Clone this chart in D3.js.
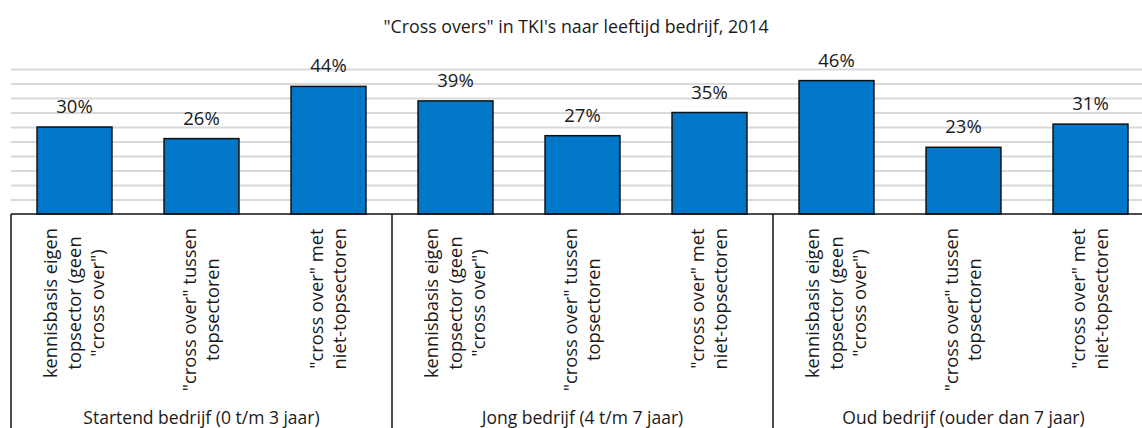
<!DOCTYPE html>
<html>
<head>
<meta charset="utf-8">
<script src="https://cdn.jsdelivr.net/npm/d3@7"></script>
<style>
  body { margin: 0; background: #fff; }
  svg { display: block; font-family: "Open Sans", sans-serif; }
  .grid line { stroke: #d9d9d9; stroke-width: 2; }
  .grid .domain { display: none; }
  text { fill: #1a1a1a; }
</style>
</head>
<body>
<svg width="1142" height="428"></svg>
<script>
// chart data
var title = "\"Cross overs\" in TKI's naar leeftijd bedrijf, 2014";
var groups = ["Startend bedrijf (0 t/m 3 jaar)", "Jong bedrijf (4 t/m 7 jaar)", "Oud bedrijf (ouder dan 7 jaar)"];
var categories = [
  ["kennisbasis eigen", "topsector (geen", "\"cross over\")"],
  ["\"cross over\" tussen", "topsectoren"],
  ["\"cross over\" met", "niet-topsectoren"]
];
var startend = [0.30, 0.26, 0.44];
var jong = [0.39, 0.27, 0.35];
var oud = [0.46, 0.23, 0.31];
var gridTicks = [0.05, 0.10, 0.15, 0.20, 0.25, 0.30, 0.35, 0.40, 0.45, 0.50];

var seriesByGroup = [startend, jong, oud];

// flatten into one row per bar
var rows = [];
groups.forEach(function (g, gi) {
  categories.forEach(function (c, ci) {
    rows.push({ group: g, cat: ci, value: seriesByGroup[gi][ci] });
  });
});

var svg = d3.select("svg");
// note: "top" is taken by window.top, so plot edges get their own names
var plotLeft = 11, plotRight = 1154, plotBase = 214, plotTop = 69;

var groupScale = d3.scaleBand().domain(groups).range([plotLeft, plotRight]);
var catScale = d3.scaleBand().domain([0, 1, 2]).range([0, groupScale.bandwidth()]).paddingInner(0.41).paddingOuter(0.205);
var yScale = d3.scaleLinear().domain([0, 0.5]).range([plotBase, plotTop]);

// gridlines
svg.append("g")
  .attr("class", "grid")
  .attr("transform", "translate(" + plotLeft + ",0)")
  .call(d3.axisLeft(yScale).tickValues(gridTicks).tickSize(-(1142 - plotLeft)).tickFormat(""));

// title
svg.append("text")
  .attr("x", 576)
  .attr("y", 33)
  .attr("text-anchor", "middle")
  .style("font-size", "17.8px")
  .text(title);

function barX(d) { return groupScale(d.group) + catScale(d.cat); }

// bars
svg.selectAll("rect.bar")
  .data(rows)
  .enter()
  .append("rect")
  .attr("class", "bar")
  .attr("x", barX)
  .attr("y", function (d) { return yScale(d.value); })
  .attr("width", catScale.bandwidth())
  .attr("height", function (d) { return plotBase - yScale(d.value); })
  .attr("fill", "#0077c8")
  .attr("stroke", "#111")
  .attr("stroke-width", 1.5);

// value labels
svg.selectAll("text.value")
  .data(rows)
  .enter()
  .append("text")
  .attr("class", "value")
  .attr("x", function (d) { return barX(d) + catScale.bandwidth() / 2; })
  .attr("y", function (d) { return yScale(d.value) - 14; })
  .attr("text-anchor", "middle")
  .style("font-size", "18.5px")
  .text(function (d) { return Math.round(d.value * 100) + "%"; });

// baseline
svg.append("line")
  .attr("x1", plotLeft).attr("x2", 1142)
  .attr("y1", plotBase).attr("y2", plotBase)
  .attr("stroke", "#111").attr("stroke-width", 1.5);

// group separators
svg.selectAll("line.sep")
  .data(groups.concat(["end"]))
  .enter()
  .append("line")
  .attr("class", "sep")
  .attr("x1", function (d, i) { return plotLeft + i * groupScale.bandwidth(); })
  .attr("x2", function (d, i) { return plotLeft + i * groupScale.bandwidth(); })
  .attr("y1", plotBase).attr("y2", 428)
  .attr("stroke", "#111").attr("stroke-width", 1.5);

// category labels, rotated, block top-aligned, lines centered
var lineH = 23.5;
rows.forEach(function (d) {
  var lines = categories[d.cat];
  var cx = barX(d) + catScale.bandwidth() / 2;
  var g = svg.append("g");
  var texts = g.selectAll("text")
    .data(lines)
    .enter()
    .append("text")
    .attr("text-anchor", "middle")
    .style("font-size", "18.3px")
    .text(function (t) { return t; });
  var maxLen = d3.max(texts.nodes(), function (n) { return n.getComputedTextLength(); });
  var midY = 228 + maxLen / 2;
  texts.attr("transform", function (t, i) {
    var x = cx + (i - (lines.length - 1) / 2) * lineH + 6;
    return "translate(" + x + "," + midY + ") rotate(-90)";
  });
});

// group labels
svg.selectAll("text.group")
  .data(groups)
  .enter()
  .append("text")
  .attr("class", "group")
  .attr("x", function (d) { return groupScale(d) + groupScale.bandwidth() / 2; })
  .attr("y", 424)
  .attr("text-anchor", "middle")
  .style("font-size", "17.5px")
  .text(function (d) { return d; });
</script>
</body>
</html>
